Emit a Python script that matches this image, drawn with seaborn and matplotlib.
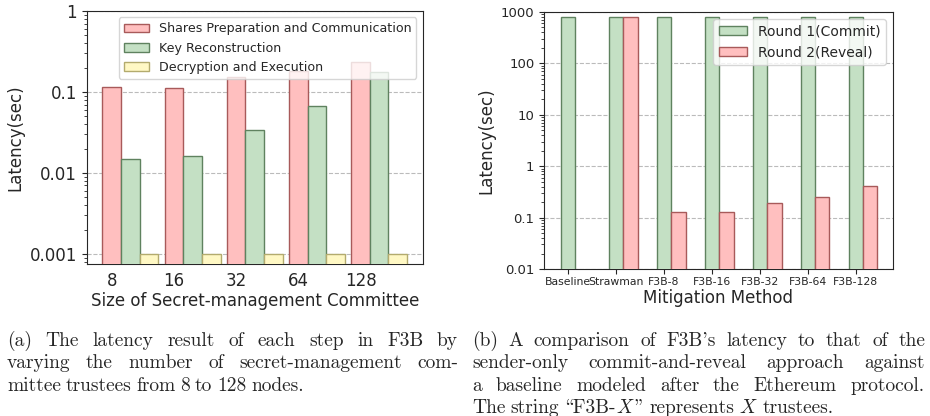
import numpy as np
import pandas as pd
import seaborn as sns
from matplotlib import pyplot as plt
from matplotlib.patches import Patch
from matplotlib.ticker import FuncFormatter, LogLocator, NullFormatter

# (a) latency of each step vs committee size
sizes = ['8', '16', '32', '64', '128']
steps = ['Shares Preparation and Communication', 'Key Reconstruction', 'Decryption and Execution']
shares_prep = [0.115, 0.113, 0.155, 0.18, 0.237]
key_recon = [0.0148, 0.016, 0.034, 0.067, 0.175]
decrypt_exec = [0.001, 0.001, 0.001, 0.001, 0.001]

# (b) commit-and-reveal comparison
methods = ['Baseline', 'Strawman', 'F3B-8', 'F3B-16', 'F3B-32', 'F3B-64', 'F3B-128']
rounds = ['Round 1(Commit)', 'Round 2(Reveal)']
round1 = [790, 790, 790, 790, 790, 790, 790]
round2 = [None, 790, 0.131, 0.131, 0.193, 0.248, 0.414]

# captions; in cmr10 (OT1 layout) ' is a right quote, \ is an open double quote, " a closing one
# '|' glues pieces of one word together
caption_a = ['(a) The latency result of each step in F3B by',
             'varying the number of secret-management com-',
             'mittee trustees from 8 to 128 nodes.']
caption_b = ["(b) A comparison of F3B's latency to that of the",
             'sender-only commit-and-reveal approach against',
             'a baseline modeled after the Ethereum protocol.',
             'The string \\F3B-|$X$|" represents $X$ trustees.']

red_face, red_edge = '#ffbfbf', '#a85a5a'
green_face, green_edge = '#c4e0c4', '#5f825f'
yellow_face, yellow_edge = '#fff8c4', '#b3ab6e'

sns.set_style('ticks')
plt.rcParams['font.family'] = ['DejaVu Sans']
plt.rcParams['mathtext.fontset'] = 'cm'
CAP_FONT = 'cmr10'

df_a = pd.DataFrame({
    'size': sizes * 3,
    'step': [s for s in steps for _ in sizes],
    'latency': shares_prep + key_recon + decrypt_exec,
})
rows = []
for m, r1, r2 in zip(methods, round1, round2):
    rows.append((m, rounds[0], r1))
    if r2 is not None:
        rows.append((m, rounds[1], r2))
df_b = pd.DataFrame(rows, columns=['method', 'round', 'latency'])

fig = plt.figure(figsize=(9.3, 4.16), dpi=100)
ax1 = fig.add_axes([0.0935, 0.3654, 0.361, 0.608])
ax2 = fig.add_axes([0.585, 0.3534, 0.375, 0.618])

def fmt(v, pos):
    return '{:g}'.format(v)

# ---- left panel
sns.barplot(data=df_a, x='size', y='latency', hue='step', hue_order=steps, order=sizes,
            width=0.9, ax=ax1, legend=False, palette=[red_face, green_face, yellow_face],
            saturation=1, linewidth=1, zorder=3)
for cont, ec in zip(ax1.containers, [red_edge, green_edge, yellow_edge]):
    for p in cont:
        p.set_edgecolor(ec)
ax1.set_yscale('log')
ax1.set_ylim(0.00075, 1)
ax1.set_xlim(-0.7, 4.7)
ax1.set_xticks(np.arange(len(sizes)) - 0.3, sizes)
ax1.tick_params(axis='x', length=0, labelsize=12, pad=6)
ax1.tick_params(axis='y', labelsize=12)
ax1.yaxis.set_major_formatter(FuncFormatter(fmt))
ax1.yaxis.set_minor_locator(LogLocator(base=10, subs=np.arange(2, 10)))
ax1.yaxis.set_minor_formatter(NullFormatter())
ax1.yaxis.grid(True, which='major', linestyle='--', color='#bbbbbb', linewidth=0.8, zorder=0)
ax1.set_axisbelow(True)
ax1.set_xlabel('Size of Secret-management Committee', fontsize=12, labelpad=1)
ax1.set_ylabel('Latency(sec)', fontsize=12)
for s in ax1.spines.values():
    s.set_visible(True)
handles = [Patch(facecolor=f, edgecolor=e, label=l)
           for f, e, l in zip([red_face, green_face, yellow_face],
                              [red_edge, green_edge, yellow_edge], steps)]
ax1.legend(handles=handles, loc='upper right', fontsize=9.05, framealpha=0.8)

# ---- right panel
sns.barplot(data=df_b, x='method', y='latency', hue='round', hue_order=rounds, order=methods,
            width=0.6, ax=ax2, legend=False, palette=[green_face, red_face],
            saturation=1, linewidth=1, zorder=3)
for cont, ec in zip(ax2.containers, [green_edge, red_edge]):
    for p in cont:
        p.set_edgecolor(ec)
ax2.set_yscale('log')
ax2.set_ylim(0.01, 1000)
ax2.set_xlim(-0.65, 6.62)
ax2.set_xticks(np.arange(len(methods)) - 0.15, methods)
ax2.tick_params(axis='x', labelsize=7.8, pad=2)
ax2.tick_params(axis='y', labelsize=9.5)
ax2.yaxis.set_major_formatter(FuncFormatter(fmt))
ax2.yaxis.set_minor_locator(LogLocator(base=10, subs=np.arange(2, 10)))
ax2.yaxis.set_minor_formatter(NullFormatter())
ax2.yaxis.grid(True, which='major', linestyle='--', color='#bbbbbb', linewidth=0.8, zorder=0)
ax2.set_axisbelow(True)
ax2.set_xlabel('Mitigation Method', fontsize=12, labelpad=2)
ax2.set_ylabel('Latency(sec)', fontsize=12)
for s in ax2.spines.values():
    s.set_visible(True)
handles = [Patch(facecolor=f, edgecolor=e, label=l)
           for f, e, l in zip([green_face, red_face], [green_edge, red_edge], rounds)]
ax2.legend(handles=handles, loc='upper right', fontsize=10, framealpha=0.8)

# ---- captions, justified like LaTeX
def caption(lines, x0, x1, y0, step, fs=14):
    r = fig.canvas.get_renderer()
    W = fig.bbox.width
    space = 0.25 * fs / 72 * fig.dpi / W
    for k, line in enumerate(lines):
        y = y0 - k * step
        words = []
        for w in line.split(' '):
            pieces = [fig.text(0, y, p, fontsize=fs, family=CAP_FONT, va='baseline')
                      for p in w.split('|')]
            widths = [a.get_window_extent(r).width / W for a in pieces]
            words.append((pieces, widths))
        total = sum(sum(ws) for _, ws in words)
        if k < len(lines) - 1:
            gap = (x1 - x0 - total) / (len(words) - 1)
        else:
            gap = space
        x = x0
        for pieces, ws in words:
            for a, w in zip(pieces, ws):
                a.set_x(x)
                x += w
            x += gap

caption(caption_a, 7 / 930, 458 / 930, 1 - 346 / 416, 22.4 / 416)
caption(caption_b, 472 / 930, 925 / 930, 1 - 346 / 416, 22.4 / 416)

fig.savefig('out.png', dpi=100)
